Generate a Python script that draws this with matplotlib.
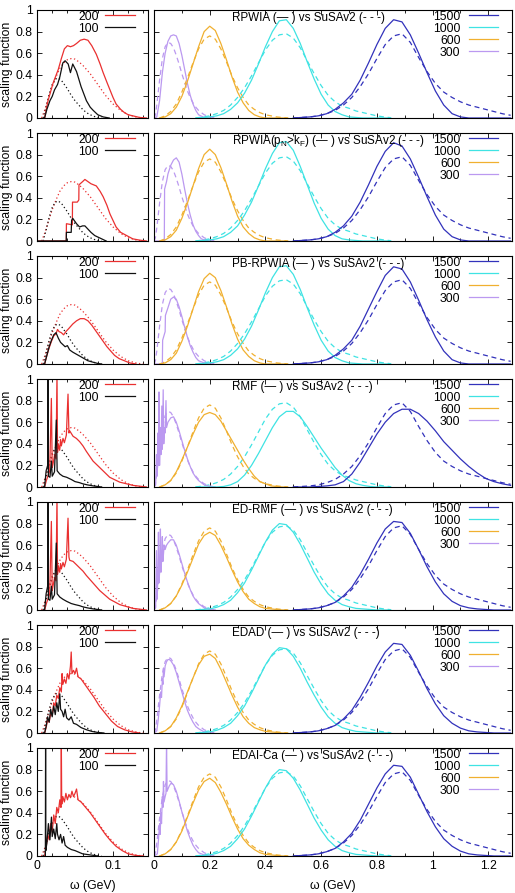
import numpy as np
import matplotlib.pyplot as plt

plt.rcParams['font.family'] = ['Liberation Sans', 'DejaVu Sans']
plt.rcParams['mathtext.fontset'] = 'custom'
plt.rcParams['mathtext.rm'] = 'Liberation Sans'
plt.rcParams['mathtext.it'] = 'Liberation Sans:italic'

# ---- x grids for the wide panels (omega in GeV)
x600 = [0.02, 0.04, 0.06, 0.08, 0.10, 0.12, 0.14, 0.16, 0.18, 0.20, 0.22, 0.24,
        0.26, 0.28, 0.30, 0.32, 0.34, 0.36, 0.38, 0.40, 0.42, 0.44, 0.46, 0.48]
x1000 = [0.150, 0.175, 0.200, 0.225, 0.250, 0.275, 0.300, 0.325, 0.350, 0.375,
         0.400, 0.425, 0.450, 0.475, 0.500, 0.525, 0.550, 0.575, 0.600, 0.625,
         0.650, 0.675, 0.700, 0.725, 0.750, 0.775, 0.800, 0.825, 0.850]
x1500 = [0.50, 0.53, 0.56, 0.59, 0.62, 0.65, 0.68, 0.71, 0.74, 0.77, 0.80, 0.83,
         0.86, 0.89, 0.92, 0.95, 0.98, 1.01, 1.04, 1.07, 1.10, 1.13, 1.16, 1.19,
         1.22, 1.25, 1.28]

# ---- SuSAv2 (dashed / dotted, same in every row)
susa_600 = [0, 0.02, 0.06, 0.13, 0.24, 0.37, 0.51, 0.64, 0.73, 0.76, 0.73, 0.64,
            0.52, 0.39, 0.28, 0.19, 0.12, 0.08, 0.05, 0.03, 0.02, 0.01, 0.005, 0]
susa_1000 = [0, 0.01, 0.02, 0.04, 0.07, 0.12, 0.19, 0.28, 0.39, 0.51, 0.63, 0.72,
             0.77, 0.78, 0.74, 0.65, 0.53, 0.41, 0.30, 0.21, 0.15, 0.11, 0.09,
             0.065, 0.05, 0.035, 0.02, 0.01, 0.003]
susa_1500 = [0, 0.005, 0.01, 0.02, 0.04, 0.07, 0.12, 0.19, 0.29, 0.41, 0.55, 0.68,
             0.76, 0.78, 0.70, 0.56, 0.43, 0.32, 0.24, 0.19, 0.15, 0.12, 0.10,
             0.08, 0.06, 0.04, 0.025]
susa_300 = [(0, 0), (0.005, 0.03), (0.01, 0.12), (0.02, 0.35), (0.03, 0.55), (0.04, 0.66),
            (0.05, 0.70), (0.06, 0.69), (0.07, 0.65), (0.08, 0.58), (0.09, 0.50),
            (0.10, 0.41), (0.11, 0.33), (0.12, 0.25), (0.13, 0.19), (0.14, 0.14),
            (0.15, 0.10), (0.16, 0.07), (0.18, 0.03), (0.20, 0.01), (0.22, 0)]
susa_100 = [(0.008, 0), (0.012, 0.10), (0.016, 0.22), (0.020, 0.31), (0.024, 0.36),
            (0.028, 0.37), (0.032, 0.35), (0.036, 0.31), (0.040, 0.27), (0.045, 0.21),
            (0.050, 0.16), (0.055, 0.12), (0.060, 0.08), (0.065, 0.05), (0.070, 0.03),
            (0.075, 0.015), (0.080, 0.005), (0.085, 0)]
susa_200 = [(0.006, 0), (0.010, 0.07), (0.015, 0.18), (0.020, 0.29), (0.025, 0.38),
            (0.030, 0.46), (0.035, 0.51), (0.040, 0.54), (0.045, 0.55), (0.050, 0.545),
            (0.055, 0.52), (0.060, 0.49), (0.065, 0.45), (0.070, 0.41), (0.075, 0.36),
            (0.080, 0.31), (0.085, 0.26), (0.090, 0.21), (0.095, 0.17), (0.100, 0.13),
            (0.105, 0.10), (0.110, 0.07), (0.115, 0.05), (0.120, 0.03), (0.125, 0.02),
            (0.130, 0.01), (0.135, 0.004), (0.140, 0)]

# ---- RPWIA
rpwia_600 = [0, 0.01, 0.04, 0.10, 0.20, 0.34, 0.50, 0.66, 0.80, 0.85, 0.81, 0.69,
             0.54, 0.38, 0.24, 0.14, 0.07, 0.03, 0.01, 0, 0, 0, 0, 0]
rpwia_1000 = [0, 0.005, 0.01, 0.02, 0.04, 0.08, 0.14, 0.23, 0.35, 0.50, 0.66, 0.80,
              0.90, 0.91, 0.83, 0.69, 0.52, 0.36, 0.22, 0.12, 0.06, 0.03, 0.01,
              0.005, 0, 0, 0, 0, 0]
rpwia_1500 = [0, 0.005, 0.01, 0.02, 0.04, 0.08, 0.14, 0.22, 0.35, 0.51, 0.68, 0.83,
              0.91, 0.89, 0.77, 0.60, 0.42, 0.25, 0.12, 0.04, 0.01, 0, 0, 0, 0, 0, 0]
rpwia_300 = [(0, 0), (0.01, 0.01), (0.02, 0.16), (0.03, 0.42), (0.04, 0.60), (0.05, 0.71),
             (0.06, 0.76), (0.07, 0.77), (0.08, 0.76), (0.09, 0.69), (0.10, 0.58),
             (0.11, 0.45), (0.12, 0.32), (0.13, 0.21), (0.14, 0.13), (0.15, 0.07),
             (0.16, 0.03), (0.18, 0.005), (0.20, 0)]
rpwia_200 = [(0.010, 0), (0.0145, 0.16), (0.021, 0.32), (0.028, 0.45), (0.032, 0.55),
             (0.036, 0.64), (0.040, 0.67), (0.044, 0.66), (0.048, 0.67), (0.052, 0.69),
             (0.057, 0.72), (0.062, 0.73), (0.067, 0.72), (0.072, 0.67), (0.078, 0.59),
             (0.083, 0.50), (0.087, 0.42), (0.092, 0.33), (0.096, 0.26), (0.100, 0.19),
             (0.104, 0.13), (0.110, 0.08), (0.115, 0.05), (0.120, 0.03), (0.126, 0.02),
             (0.135, 0.005), (0.144, 0)]
rpwia_100 = [(0.010, 0), (0.013, 0.08), (0.017, 0.16), (0.020, 0.20), (0.023, 0.26),
             (0.027, 0.31), (0.030, 0.38), (0.034, 0.51), (0.037, 0.53), (0.041, 0.50),
             (0.044, 0.42), (0.047, 0.50), (0.052, 0.43), (0.058, 0.29), (0.065, 0.16),
             (0.070, 0.10), (0.074, 0.07), (0.080, 0.03), (0.087, 0.01), (0.095, 0)]

# ---- RPWIA(pN>kF)
pn_600 = [0, 0.01, 0.04, 0.10, 0.21, 0.35, 0.51, 0.67, 0.80, 0.85, 0.80, 0.68,
          0.53, 0.37, 0.23, 0.13, 0.07, 0.03, 0.01, 0, 0, 0, 0, 0]
pn_1000 = [0, 0.005, 0.01, 0.02, 0.04, 0.08, 0.14, 0.24, 0.36, 0.51, 0.67, 0.81,
           0.91, 0.92, 0.84, 0.69, 0.52, 0.35, 0.21, 0.11, 0.05, 0.02, 0.01, 0.005,
           0, 0, 0, 0, 0]
pn_1500 = [0, 0.005, 0.01, 0.02, 0.04, 0.08, 0.14, 0.23, 0.36, 0.52, 0.69, 0.83,
           0.91, 0.88, 0.76, 0.59, 0.41, 0.24, 0.11, 0.04, 0.01, 0, 0, 0, 0, 0, 0]
pn_300 = [(0, 0), (0.037, 0), (0.038, 0.48), (0.045, 0.55), (0.05, 0.62), (0.06, 0.70),
          (0.07, 0.75), (0.08, 0.77), (0.09, 0.73), (0.10, 0.62), (0.11, 0.48),
          (0.12, 0.35), (0.13, 0.24), (0.14, 0.15), (0.15, 0.09), (0.16, 0.05),
          (0.17, 0.02), (0.18, 0.01), (0.20, 0)]
pn_200 = [(0, 0), (0.0385, 0), (0.0387, 0.16), (0.0465, 0.15), (0.0467, 0.36),
          (0.053, 0.36), (0.055, 0.38), (0.0552, 0.52), (0.060, 0.55), (0.063, 0.57),
          (0.067, 0.55), (0.071, 0.53), (0.078, 0.51), (0.083, 0.46), (0.087, 0.41),
          (0.092, 0.33), (0.096, 0.25), (0.100, 0.19), (0.104, 0.13), (0.110, 0.08),
          (0.118, 0.05), (0.126, 0.02), (0.135, 0.008), (0.144, 0)]
pn_100 = [(0, 0), (0.0385, 0), (0.0387, 0.08), (0.045, 0.08), (0.0455, 0.19),
          (0.047, 0.21), (0.052, 0.16), (0.056, 0.13), (0.060, 0.14), (0.063, 0.14),
          (0.067, 0.11), (0.071, 0.08), (0.076, 0.05), (0.082, 0.03), (0.091, 0)]

# ---- PB-RPWIA
pb_600 = [0, 0.01, 0.04, 0.10, 0.21, 0.35, 0.51, 0.67, 0.79, 0.84, 0.80, 0.68,
          0.53, 0.37, 0.23, 0.13, 0.07, 0.03, 0.01, 0, 0, 0, 0, 0]
pb_1000 = [0, 0.005, 0.01, 0.02, 0.04, 0.08, 0.14, 0.23, 0.35, 0.50, 0.66, 0.80,
           0.90, 0.91, 0.83, 0.69, 0.52, 0.36, 0.22, 0.12, 0.06, 0.03, 0.01, 0.005,
           0, 0, 0, 0, 0]
pb_1500 = [0, 0.005, 0.01, 0.02, 0.04, 0.08, 0.14, 0.22, 0.35, 0.51, 0.67, 0.82,
           0.90, 0.88, 0.76, 0.59, 0.41, 0.25, 0.12, 0.04, 0.01, 0, 0, 0, 0, 0, 0]
pb_300 = [(0, 0), (0.03, 0), (0.031, 0.22), (0.04, 0.30), (0.041, 0.45), (0.05, 0.52),
          (0.06, 0.60), (0.07, 0.62), (0.08, 0.60), (0.09, 0.53), (0.10, 0.44),
          (0.11, 0.34), (0.12, 0.25), (0.13, 0.17), (0.14, 0.11), (0.15, 0.06),
          (0.16, 0.03), (0.18, 0.01), (0.20, 0)]
pb_200 = [(0.010, 0), (0.013, 0.08), (0.016, 0.15), (0.019, 0.21), (0.022, 0.26),
          (0.025, 0.28), (0.027, 0.32), (0.029, 0.30), (0.032, 0.29), (0.035, 0.27),
          (0.038, 0.30), (0.042, 0.33), (0.047, 0.37), (0.052, 0.40), (0.057, 0.42),
          (0.062, 0.42), (0.067, 0.40), (0.072, 0.36), (0.077, 0.31), (0.082, 0.26),
          (0.087, 0.21), (0.092, 0.16), (0.097, 0.12), (0.102, 0.08), (0.108, 0.05),
          (0.115, 0.03), (0.122, 0.01), (0.130, 0)]
pb_100 = [(0.010, 0), (0.013, 0.08), (0.016, 0.16), (0.019, 0.22), (0.022, 0.27),
          (0.025, 0.29), (0.028, 0.24), (0.031, 0.20), (0.034, 0.18), (0.037, 0.16),
          (0.040, 0.17), (0.043, 0.13), (0.047, 0.11), (0.052, 0.09), (0.057, 0.07),
          (0.062, 0.05), (0.067, 0.03), (0.072, 0.02), (0.080, 0.005), (0.085, 0)]

# ---- RMF
rmf_600 = [0, 0.02, 0.06, 0.14, 0.25, 0.37, 0.49, 0.60, 0.67, 0.69, 0.67, 0.61,
           0.52, 0.43, 0.34, 0.25, 0.17, 0.10, 0.05, 0.03, 0.01, 0.005, 0, 0]
rmf_1000 = [0, 0, 0, 0, 0.005, 0.02, 0.05, 0.11, 0.20, 0.31, 0.43, 0.55, 0.65, 0.70,
            0.70, 0.65, 0.56, 0.46, 0.36, 0.27, 0.18, 0.11, 0.06, 0.03, 0.015, 0.005,
            0, 0, 0]
rmf_1500 = [0, 0, 0, 0.005, 0.01, 0.02, 0.05, 0.12, 0.23, 0.36, 0.49, 0.60, 0.68,
            0.72, 0.72, 0.68, 0.61, 0.52, 0.42, 0.34, 0.26, 0.19, 0.13, 0.08, 0.05,
            0.03, 0.015]
rmf_300 = [(0, 0), (0.006, 0.02), (0.009, 0.3), (0.011, 0.1), (0.014, 0.5), (0.016, 0.2),
           (0.018, 0.88), (0.020, 0.2), (0.023, 0.55), (0.025, 0.3), (0.028, 0.75),
           (0.030, 0.35), (0.033, 0.90), (0.035, 0.4), (0.038, 0.55), (0.040, 0.5),
           (0.043, 0.80), (0.045, 0.55), (0.05, 0.60), (0.06, 0.64), (0.07, 0.65),
           (0.08, 0.60), (0.09, 0.52), (0.10, 0.43), (0.11, 0.34), (0.12, 0.26),
           (0.13, 0.19), (0.14, 0.13), (0.15, 0.09), (0.16, 0.06), (0.18, 0.02),
           (0.20, 0.005), (0.22, 0)]
rmf_200 = [(0.010, 0), (0.0123, 0.06), (0.0167, 0.15), (0.0189, 0.82), (0.020, 0.18),
           (0.021, 0.21), (0.0232, 0.30), (0.025, 0.26), (0.0263, 1.05), (0.027, 0.32),
           (0.028, 0.40), (0.0298, 0.34), (0.031, 0.44), (0.032, 0.38), (0.0342, 0.45),
           (0.036, 0.41), (0.0386, 0.48), (0.0408, 0.86), (0.042, 0.50), (0.043, 0.52),
           (0.0474, 0.47), (0.0518, 0.45), (0.0561, 0.42), (0.0605, 0.38), (0.0649, 0.33),
           (0.0737, 0.24), (0.0825, 0.18), (0.0956, 0.09), (0.1088, 0.045),
           (0.1263, 0.015), (0.1439, 0)]
rmf_100 = [(0.010, 0), (0.012, 0.15), (0.014, 0.2), (0.0145, 1.05), (0.015, 0.1),
           (0.017, 0.09), (0.019, 0.24), (0.020, 0.10), (0.023, 0.14), (0.0254, 0.62),
           (0.0265, 0.15), (0.030, 0.12), (0.034, 0.10), (0.039, 0.09), (0.045, 0.07),
           (0.050, 0.05), (0.056, 0.04), (0.060, 0.03), (0.066, 0.02), (0.074, 0.01),
           (0.085, 0)]

# ---- ED-RMF
edrmf_600 = [0, 0.02, 0.06, 0.13, 0.23, 0.35, 0.48, 0.61, 0.69, 0.72, 0.69, 0.60,
             0.49, 0.37, 0.26, 0.17, 0.10, 0.06, 0.03, 0.015, 0.01, 0.005, 0, 0]
edrmf_1000 = [0, 0.005, 0.01, 0.025, 0.05, 0.09, 0.16, 0.25, 0.37, 0.50, 0.63, 0.74,
              0.80, 0.79, 0.72, 0.61, 0.48, 0.35, 0.24, 0.15, 0.09, 0.05, 0.03, 0.015,
              0.01, 0.005, 0, 0, 0]
edrmf_1500 = [0, 0.005, 0.01, 0.02, 0.04, 0.07, 0.13, 0.21, 0.33, 0.47, 0.62, 0.75,
              0.82, 0.81, 0.71, 0.56, 0.40, 0.26, 0.15, 0.08, 0.04, 0.02, 0.01, 0.005,
              0, 0, 0]
edrmf_300 = [(0, 0), (0.006, 0.02), (0.009, 0.55), (0.011, 0.1), (0.014, 0.3),
             (0.016, 0.72), (0.018, 0.25), (0.021, 0.40), (0.023, 0.75), (0.025, 0.35),
             (0.028, 0.5), (0.030, 0.68), (0.032, 0.45), (0.035, 0.55), (0.038, 0.60),
             (0.040, 0.56), (0.045, 0.60), (0.05, 0.62), (0.06, 0.65), (0.07, 0.65),
             (0.08, 0.60), (0.09, 0.52), (0.10, 0.43), (0.11, 0.34), (0.12, 0.26),
             (0.13, 0.19), (0.14, 0.13), (0.15, 0.09), (0.16, 0.06), (0.18, 0.02),
             (0.20, 0.005), (0.22, 0)]
edrmf_200 = [(0.010, 0), (0.0123, 0.06), (0.0167, 0.15), (0.0189, 0.82), (0.020, 0.18),
             (0.021, 0.22), (0.0232, 0.30), (0.025, 0.27), (0.0263, 1.05), (0.027, 0.33),
             (0.028, 0.41), (0.0298, 0.35), (0.031, 0.43), (0.032, 0.38), (0.0342, 0.44),
             (0.036, 0.40), (0.0386, 0.47), (0.0408, 0.85), (0.042, 0.49), (0.043, 0.46),
             (0.0474, 0.45), (0.0518, 0.42), (0.0561, 0.39), (0.0605, 0.36), (0.0649, 0.32),
             (0.0737, 0.25), (0.0825, 0.18), (0.0956, 0.10), (0.1088, 0.05),
             (0.1263, 0.015), (0.1439, 0)]
edrmf_100 = [(0.010, 0), (0.012, 0.15), (0.014, 0.22), (0.0145, 1.05), (0.015, 0.1),
             (0.017, 0.09), (0.019, 0.22), (0.020, 0.10), (0.023, 0.14), (0.0254, 0.62),
             (0.0265, 0.15), (0.030, 0.12), (0.034, 0.10), (0.039, 0.08), (0.045, 0.06),
             (0.050, 0.05), (0.056, 0.04), (0.060, 0.03), (0.066, 0.02), (0.074, 0.01),
             (0.085, 0)]

# ---- EDAD
edad_600 = [0, 0.02, 0.06, 0.14, 0.25, 0.38, 0.51, 0.63, 0.71, 0.73, 0.69, 0.59,
            0.47, 0.35, 0.24, 0.15, 0.09, 0.05, 0.03, 0.015, 0.01, 0.005, 0, 0]
edad_1000 = [0, 0.005, 0.01, 0.025, 0.05, 0.09, 0.16, 0.25, 0.37, 0.50, 0.63, 0.73,
             0.79, 0.78, 0.71, 0.60, 0.47, 0.35, 0.24, 0.15, 0.09, 0.05, 0.03, 0.015,
             0.01, 0.005, 0, 0, 0]
edad_1500 = [0, 0.005, 0.01, 0.02, 0.04, 0.07, 0.13, 0.21, 0.33, 0.47, 0.62, 0.75,
             0.83, 0.82, 0.72, 0.57, 0.41, 0.27, 0.16, 0.09, 0.045, 0.02, 0.01, 0.005,
             0, 0, 0]
edad_300 = [(0, 0), (0.010, 0.02), (0.015, 0.12), (0.020, 0.25), (0.024, 0.38),
            (0.027, 0.33), (0.030, 0.5), (0.032, 0.45), (0.034, 0.6), (0.036, 0.52),
            (0.040, 0.62), (0.045, 0.66), (0.05, 0.68), (0.055, 0.68), (0.06, 0.67),
            (0.07, 0.63), (0.08, 0.56), (0.09, 0.47), (0.10, 0.38), (0.11, 0.29),
            (0.12, 0.21), (0.13, 0.15), (0.14, 0.10), (0.15, 0.06), (0.16, 0.04),
            (0.18, 0.01), (0.20, 0)]
edad_200 = [(0.010, 0), (0.012, 0.05), (0.014, 0.12), (0.016, 0.10), (0.018, 0.18),
            (0.020, 0.16), (0.022, 0.28), (0.024, 0.25), (0.026, 0.35), (0.028, 0.32),
            (0.030, 0.42), (0.032, 0.38), (0.033, 0.55), (0.034, 0.45), (0.036, 0.50),
            (0.038, 0.46), (0.040, 0.55), (0.042, 0.50), (0.044, 0.62), (0.045, 0.75),
            (0.046, 0.55), (0.048, 0.58), (0.050, 0.55), (0.052, 0.60), (0.054, 0.52),
            (0.058, 0.50), (0.062, 0.46), (0.068, 0.40), (0.075, 0.33), (0.082, 0.25),
            (0.090, 0.18), (0.098, 0.11), (0.106, 0.06), (0.115, 0.03), (0.125, 0.01),
            (0.135, 0)]
edad_100 = [(0.010, 0), (0.012, 0.06), (0.014, 0.15), (0.016, 0.10), (0.018, 0.22),
            (0.020, 0.15), (0.022, 0.25), (0.024, 0.17), (0.026, 0.28), (0.028, 0.20),
            (0.030, 0.36), (0.031, 0.22), (0.033, 0.20), (0.035, 0.15), (0.037, 0.22),
            (0.039, 0.14), (0.042, 0.12), (0.045, 0.15), (0.048, 0.09), (0.052, 0.08),
            (0.058, 0.05), (0.065, 0.03), (0.072, 0.015), (0.080, 0.005), (0.088, 0)]

# ---- EDAI-Ca
edai_600 = [0, 0.02, 0.06, 0.13, 0.23, 0.36, 0.49, 0.61, 0.69, 0.72, 0.68, 0.59,
            0.48, 0.36, 0.25, 0.16, 0.10, 0.06, 0.03, 0.015, 0.01, 0.005, 0, 0]
edai_1000 = [0, 0.005, 0.01, 0.025, 0.05, 0.09, 0.16, 0.25, 0.37, 0.50, 0.63, 0.74,
             0.80, 0.79, 0.72, 0.61, 0.48, 0.35, 0.24, 0.15, 0.09, 0.05, 0.03, 0.015,
             0.01, 0.005, 0, 0, 0]
edai_1500 = [0, 0.005, 0.01, 0.02, 0.04, 0.07, 0.13, 0.21, 0.33, 0.48, 0.63, 0.76,
             0.84, 0.83, 0.73, 0.57, 0.41, 0.27, 0.16, 0.09, 0.045, 0.02, 0.01, 0.005,
             0, 0, 0]
edai_300 = [(0, 0), (0.012, 0.02), (0.016, 0.15), (0.020, 0.30), (0.022, 0.2), (0.025, 0.4),
            (0.027, 0.3), (0.030, 0.55), (0.032, 0.45), (0.034, 0.69), (0.036, 0.5),
            (0.040, 0.55), (0.043, 0.58), (0.045, 1.05), (0.047, 0.6), (0.050, 0.62),
            (0.055, 0.65), (0.06, 0.67), (0.065, 0.67), (0.07, 0.66), (0.08, 0.60),
            (0.09, 0.51), (0.10, 0.41), (0.11, 0.32), (0.12, 0.23), (0.13, 0.16),
            (0.14, 0.10), (0.15, 0.06), (0.16, 0.03), (0.18, 0.01), (0.20, 0)]
edai_200 = [(0.010, 0), (0.012, 0.08), (0.014, 0.2), (0.016, 0.15), (0.018, 0.3),
            (0.020, 0.22), (0.022, 0.38), (0.024, 0.3), (0.026, 0.45), (0.028, 0.4),
            (0.030, 0.52), (0.0315, 0.45), (0.032, 1.05), (0.0325, 0.48), (0.034, 0.55),
            (0.036, 0.50), (0.038, 0.58), (0.040, 0.52), (0.042, 0.57), (0.044, 0.54),
            (0.046, 0.60), (0.048, 0.55), (0.050, 0.58), (0.052, 0.62), (0.054, 0.52),
            (0.058, 0.50), (0.064, 0.45), (0.070, 0.40), (0.077, 0.33), (0.083, 0.27),
            (0.090, 0.20), (0.097, 0.14), (0.104, 0.09), (0.112, 0.05), (0.120, 0.02),
            (0.130, 0.005), (0.140, 0)]
edai_100 = [(0.0110, 0), (0.0113, 1.05), (0.0116, 0.05), (0.013, 0.12), (0.015, 0.30),
            (0.017, 0.15), (0.019, 0.36), (0.020, 0.18), (0.022, 0.25), (0.024, 0.16),
            (0.026, 0.30), (0.027, 0.20), (0.029, 0.15), (0.031, 0.20), (0.033, 0.12),
            (0.035, 0.18), (0.037, 0.10), (0.040, 0.08), (0.045, 0.06), (0.050, 0.05),
            (0.055, 0.035), (0.060, 0.02), (0.070, 0.01), (0.080, 0)]

titles = ['RPWIA (— ) vs SuSAv2 (- - -)',
          r'RPWIA(p$_\mathrm{N}$>k$_\mathrm{F}$) (— ) vs SuSAv2 (- - -)',
          'PB-RPWIA (— ) vs SuSAv2 (- - -)',
          'RMF (— ) vs SuSAv2 (- - -)',
          'ED-RMF (— ) vs SuSAv2 (- - -)',
          'EDAD (— ) vs SuSAv2 (- - -)',
          'EDAI-Ca (— ) vs SuSAv2 (- - -)']
rows_200 = [rpwia_200, pn_200, pb_200, rmf_200, edrmf_200, edad_200, edai_200]
rows_100 = [rpwia_100, pn_100, pb_100, rmf_100, edrmf_100, edad_100, edai_100]
rows_300 = [rpwia_300, pn_300, pb_300, rmf_300, edrmf_300, edad_300, edai_300]
rows_600 = [rpwia_600, pn_600, pb_600, rmf_600, edrmf_600, edad_600, edai_600]
rows_1000 = [rpwia_1000, pn_1000, pb_1000, rmf_1000, edrmf_1000, edad_1000, edai_1000]
rows_1500 = [rpwia_1500, pn_1500, pb_1500, rmf_1500, edrmf_1500, edad_1500, edai_1500]

c_red, c_blk = '#ea3030', '#111111'
c1500, c1000, c600, c300 = '#3232bb', '#3fe3e3', '#f0b030', '#bb99f0'
lw = 0.9
dash = (0, (4, 3))
dot = (0, (1, 2))
fs = 8.8


def xy(pairs):
    a = np.array(pairs, dtype=float)
    return a[:, 0], a[:, 1]


def style(ax, bottom):
    ax.set_ylim(0, 1)
    ax.set_yticks([0, 0.2, 0.4, 0.6, 0.8, 1.0])
    ax.tick_params(which='both', direction='in', top=True, right=True,
                   width=0.6, labelsize=fs, pad=3)
    ax.tick_params(which='major', length=3.5)
    ax.tick_params(which='minor', length=2)
    for s in ax.spines.values():
        s.set_linewidth(0.8)
    if not bottom:
        ax.tick_params(labelbottom=False)


W, H = 515.0, 893.0
fig = plt.figure(figsize=(5.15, 8.93), dpi=100)

for k in range(7):
    top = 10 + 123 * k
    bot = top + 108
    bottom = (k == 6)

    # ---- left (low energy)
    axl = fig.add_axes([37 / W, 1 - bot / H, 111 / W, 108 / H])
    axl.plot(*xy(susa_200), color=c_red, lw=lw, ls=dot)
    axl.plot(*xy(susa_100), color=c_blk, lw=lw, ls=dot)
    h200, = axl.plot(*xy(rows_200[k]), color=c_red, lw=lw, label='200')
    h100, = axl.plot(*xy(rows_100[k]), color=c_blk, lw=lw, label='100')
    axl.set_xlim(0, 0.146)
    axl.set_xticks([0, 0.1])
    axl.set_xticks(np.arange(0, 0.146, 0.02), minor=True)
    style(axl, bottom)
    axl.set_yticklabels(['0', '0.2', '0.4', '0.6', '0.8', '1'])
    axl.set_ylabel('scaling function', fontsize=fs, labelpad=2)
    axl.legend(handles=[h200, h100], loc='upper right', bbox_to_anchor=(0.885, 0.995),
               frameon=False, markerfirst=False, fontsize=fs, borderpad=0,
               borderaxespad=0, handlelength=2.5, handletextpad=0.5,
               labelspacing=0.0)
    if bottom:
        axl.set_xticklabels(['0', '0.1'])
        axl.set_xlabel('ω (GeV)', fontsize=fs, labelpad=6)

    # ---- right (high energy)
    axr = fig.add_axes([154 / W, 1 - bot / H, 358 / W, 108 / H])
    axr.plot(*xy(susa_300), color=c300, lw=lw, ls=dash)
    axr.plot(x600, susa_600, color=c600, lw=lw, ls=dash)
    axr.plot(x1000, susa_1000, color=c1000, lw=lw, ls=dash)
    axr.plot(x1500, susa_1500, color=c1500, lw=lw, ls=dash)
    h300, = axr.plot(*xy(rows_300[k]), color=c300, lw=lw, label='300')
    h600, = axr.plot(x600, rows_600[k], color=c600, lw=lw, label='600')
    h1000, = axr.plot(x1000, rows_1000[k], color=c1000, lw=lw, label='1000')
    h1500, = axr.plot(x1500, rows_1500[k], color=c1500, lw=lw, label='1500')
    axr.set_xlim(0, 1.285)
    axr.set_xticks([0, 0.2, 0.4, 0.6, 0.8, 1.0, 1.2])
    axr.set_xticks(np.arange(0.1, 1.285, 0.2), minor=True)
    style(axr, bottom)
    axr.tick_params(labelleft=False)
    axr.text(0.217, 0.923, titles[k], transform=axr.transAxes, ha='left',
             va='center', fontsize=8.4)
    axr.legend(handles=[h1500, h1000, h600, h300], loc='upper right',
               bbox_to_anchor=(0.962, 0.995), frameon=False, markerfirst=False,
               fontsize=fs, borderpad=0, borderaxespad=0, handlelength=2.4,
               handletextpad=0.7, labelspacing=0.0)
    if bottom:
        axr.set_xticklabels(['0', '0.2', '0.4', '0.6', '0.8', '1', '1.2'])
        axr.set_xlabel('ω (GeV)', fontsize=fs, labelpad=6)

fig.savefig('out.png', dpi=100)
